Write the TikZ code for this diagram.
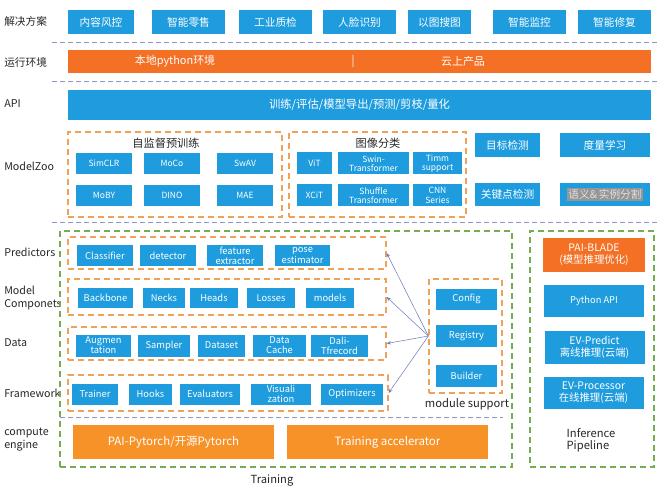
\documentclass[tikz,border=0pt]{standalone}
\usepackage{fontspec}
\setmainfont{Noto Sans CJK SC}
\usetikzlibrary{arrows.meta}

\definecolor{boxblue}{RGB}{30,156,222}
\definecolor{envorange}{RGB}{243,112,36}
\definecolor{engorange}{RGB}{247,146,40}
\definecolor{grporange}{RGB}{240,163,88}
\definecolor{grpgreen}{RGB}{118,172,84}
\definecolor{sepblue}{RGB}{140,150,200}
\definecolor{linkblue}{RGB}{110,125,190}
\definecolor{hlgray}{RGB}{150,150,150}

\def\px{0.75pt}
\newcommand\labfont{\fontsize{8}{9.5}\selectfont}
\newcommand\boxfont{\fontsize{7}{7.6}\selectfont}
\newcommand\smallboxfont{\fontsize{6.4}{7}\selectfont}

\begin{document}
\begin{tikzpicture}[x=\px,y=-\px,
    sz/.style 2 args={minimum width=#1*\px,minimum height=#2*\px},
    blk/.style={fill=boxblue,text=white,inner sep=0,align=center,font=\boxfont},
    oblk/.style={blk,fill=envorange},
    eblk/.style={blk,fill=engorange,font=\fontsize{8.6}{9}\selectfont},
    ogrp/.style={draw=grporange,line width=0.9,dash pattern=on 4.5pt off 3pt,inner sep=0},
    ggrp/.style={draw=grpgreen,line width=0.9,dash pattern=on 4.5pt off 3pt,inner sep=0},
    sep/.style={draw=sepblue,line width=0.7,dash pattern=on 3.5pt off 2.5pt},
    lab/.style={anchor=west,align=left,inner sep=0,font=\labfont,text=black!85},
    ttl/.style={inner sep=0,font=\fontsize{8.4}{9}\selectfont,text=black!85},
    envtxt/.style={text=white,inner sep=0,font=\fontsize{8.2}{9}\selectfont},
    link/.style={draw=linkblue,line width=0.4,-{Stealth[length=3.2pt,width=2.6pt]}}
    ]
    \useasboundingbox (0,0) rectangle (666,491);

    % left labels
    \node[lab] (lsol) at (4,21) {解决方案};
    \node[lab] (lenv) at (4,62) {运行环境};
    \node[lab] (lapi) at (4,104) {API};
    \node[lab] (lzoo) at (4,166) {ModelZoo};
    \node[lab] (lpred) at (4,252) {Predictors};
    \node[lab] (lcomp) at (4,298) {Model\\Componets};
    \node[lab] (ldata) at (4,343) {Data};
    \node[lab] (lframe) at (4,393) {Framework};
    \node[lab] (lengine) at (4,439.5) {compute\\engine};

    % separators
    \foreach \y in {42,81,222} {
        \draw[sep] (52,\y) -- (658,\y);
    }
    \draw[sep] (60,417) -- (503,417);

    % solutions
    \foreach \i/\x/\w/\t in {1/101/66/内容风控,2/188.5/73/智能零售,3/275.5/73/工业质检,
        4/359.5/73/人脸识别,5/439.5/63/以图搜图,6/529.5/73/智能监控,7/614.5/73/智能修复} {
        \node[blk,sz={\w}{24},font=\fontsize{8}{8.5}\selectfont] (sol\i) at (\x,22) {\t};
    }

    % runtime environment
    \node[oblk,sz={583}{23}] (env) at (359.5,61.5) {};
    \node[envtxt] (envlocal) at (175,61.5) {本地python环境};
    \node[envtxt] (envbar) at (353,61.5) {|};
    \node[envtxt] (envcloud) at (463,61.5) {云上产品};

    % api
    \node[blk,sz={583}{30},font=\fontsize{8.5}{9}\selectfont] (api) at (359.5,105) {训练/评估/模型导出/预测/剪枝/量化};

    % model zoo
    \node[ogrp,sz={214}{85}] (ssl) at (175,174.5) {};
    \node[ttl] (ssltitle) at (166,143) {自监督预训练};
    \foreach \i/\x/\y/\t in {1/104/163.5/SimCLR,2/172/163.5/MoCo,3/245/163.5/SwAV,
        4/104/195.5/MoBY,5/172/195.5/DINO,6/245/195.5/MAE} {
        \node[blk,sz={56}{21},font=\smallboxfont] (ssl\i) at (\x,\y) {\t};
    }
    \node[ogrp,sz={177}{85}] (cls) at (377.5,174.5) {};
    \node[ttl] (clstitle) at (378,143) {图像分类};
    \foreach \i/\x/\y/\w/\t in {1/314.5/163.5/35/ViT,2/373.5/163.5/71/Swin-\\Transformer,3/437.5/163.5/49/Timm\\support,
        4/314.5/195.5/35/XCiT,5/373.5/195.5/71/Shuffle\\Transformer,6/437.5/195.5/49/CNN\\Series} {
        \node[blk,sz={\w}{22},font=\smallboxfont] (cls\i) at (\x,\y) {\t};
    }
    \node[blk,sz={65}{24},font=\fontsize{8}{8.5}\selectfont] (det) at (507.5,145) {目标检测};
    \node[blk,sz={90}{24},font=\fontsize{8}{8.5}\selectfont] (metric) at (605,145) {度量学习};
    \node[blk,sz={65}{23},font=\fontsize{8}{8.5}\selectfont] (kpt) at (507.5,194.5) {关键点检测};
    \node[blk,sz={90}{23},font=\fontsize{8}{8.5}\selectfont] (seg) at (605,194.5)
        {\setlength\fboxsep{0.8pt}\colorbox{hlgray}{\textcolor{white!88!black}{语义\&\,实例分割}}};

    % training
    \node[ggrp,sz={452}{236}] (train) at (286,349) {};
    \node[ttl] (traintitle) at (272,481) {Training};

    \node[ogrp,sz={318}{32}] (pred) at (227,253) {};
    \foreach \i/\x/\w/\t in {1/105/56/Classifier,2/168/56/detector,3/235/56/feature\\extractor,4/302.5/55/pose\\estimator} {
        \node[blk,sz={\w}{21}] (pred\i) at (\x,255.5) {\t};
    }
    \node[ogrp,sz={318}{36}] (comp) at (227,297) {};
    \foreach \i/\x/\w/\t in {1/105.5/55/Backbone,2/164/42/Necks,3/214/48/Heads,4/271/48/Losses,5/330/48/models} {
        \node[blk,sz={\w}{20}] (comp\i) at (\x,298) {\t};
    }
    \node[ogrp,sz={318}{33}] (data) at (227,343.5) {};
    \foreach \i/\x/\w/\t in {1/103.5/55/Augmen\\tation,2/164/52/Sampler,3/221.5/47/Dataset,4/279.5/53/Data\\Cache,5/339.5/57/Dali-\\Tfrecord} {
        \node[blk,sz={\w}{22}] (data\i) at (\x,345.5) {\t};
    }
    \node[ogrp,sz={320}{36}] (frame) at (228,393) {};
    \foreach \i/\x/\w/\t in {1/95/46/Trainer,2/150.5/43/Hooks,3/210/60/Evaluators,4/281/60/Visuali\\zation,5/352/62/Optimizers} {
        \node[blk,sz={\w}{21}] (frame\i) at (\x,394) {\t};
    }

    % module support
    \node[ogrp,sz={73}{114}] (mod) at (465.5,336) {};
    \node[blk,sz={61}{21}] (config) at (466.5,299) {Config};
    \node[blk,sz={61}{22}] (registry) at (466.5,336) {Registry};
    \node[blk,sz={61}{22}] (builder) at (466.5,375.5) {Builder};
    \node[ttl] (modtitle) at (467,404) {module support};
    \foreach \g in {pred,comp,data,frame} {
        \draw[link] (mod.west) -- (\g.east);
    }

    % compute engine
    \node[eblk,sz={201}{34}] (pt) at (173.5,442) {PAI-Pytorch/开源Pytorch};
    \node[eblk,sz={201}{34}] (acc) at (387.5,442) {Training accelerator};

    % inference
    \node[ggrp,sz={124}{236}] (infer) at (592,349) {};
    \node[oblk,sz={102}{34},font=\fontsize{7.8}{9}\selectfont] (blade) at (594,255) {PAI-BLADE\\(模型推理优化)};
    \node[blk,sz={100}{32}] (pyapi) at (594,301) {Python API};
    \node[blk,sz={100}{33},font=\fontsize{7.8}{9}\selectfont] (evpred) at (594.5,347) {EV-Predict\\离线推理(云端)};
    \node[blk,sz={100}{32},font=\fontsize{7.8}{9}\selectfont] (evproc) at (593.5,393) {EV-Processor\\在线推理(云端)};
    \node[ttl,align=left] (infertitle) at (591,440) {Inference\\Pipeline};
\end{tikzpicture}
\end{document}
